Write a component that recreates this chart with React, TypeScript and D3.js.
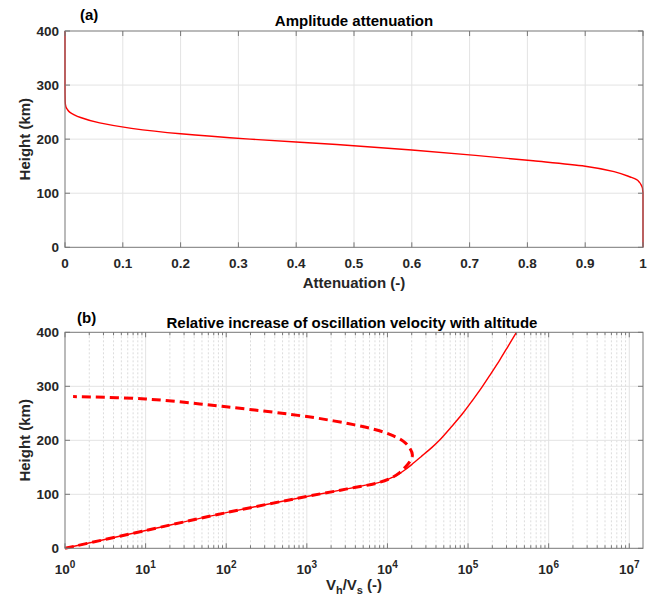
import React from 'react';
import * as d3 from 'd3';

// ---------- Data ----------
const attenTicks = [0, 0.1, 0.2, 0.3, 0.4, 0.5, 0.6, 0.7, 0.8, 0.9, 1];
const heightTicks = [0, 100, 200, 300, 400];
const logTickExps = [0, 1, 2, 3, 4, 5, 6, 7];

// Panel (a): attenuation vs height
const attenHeight = [0, 100, 105, 110, 115, 120, 125, 130, 140, 150, 160, 170, 180, 190, 200, 210, 220, 230, 240, 245, 250, 255, 260, 270, 300, 400];
const attenValue = [1, 1, 0.9995, 0.999, 0.997, 0.994, 0.989, 0.978, 0.95, 0.9, 0.81, 0.71, 0.6, 0.47, 0.32, 0.2, 0.115, 0.06, 0.027, 0.016, 0.008, 0.004, 0.0015, 0.0003, 0, 0];

// Panel (b): solid line (Vh/Vs vs height)
const solidHeight = [0, 33, 66, 96, 110, 116, 122, 127, 132, 138, 145, 155, 170, 186, 200, 226, 250, 275, 299, 325, 349, 375, 400];
const solidRatio = [1, 10, 100, 1000, 3160, 5010, 7940, 1.0e4, 1.175e4, 1.396e4, 1.64e4, 1.995e4, 2.63e4, 3.51e4, 4.42e4, 6.31e4, 8.61e4, 1.148e5, 1.496e5, 1.95e5, 2.48e5, 3.16e5, 3.98e5];

// Panel (b): dashed line (path order, bottom to top)
const dashHeight = [0, 33, 66, 96, 110, 122, 132, 140, 150, 161, 173, 185, 198, 211, 221, 229, 236, 244, 262, 276.5, 281];
const dashRatio = [1, 10, 100, 1000, 3160, 7940, 1.175e4, 1.42e4, 1.66e4, 1.9e4, 2.04e4, 1.9e4, 1.58e4, 1.07e4, 6600, 3800, 2140, 1000, 100, 10, 1.26];

const FONT = '"Liberation Sans", Arial, Helvetica, sans-serif';
const TXT = '#262626';
const AX = '#777777';
const GRID = '#e3e3e3';

export default function App() {
  const W = 654, H = 599;
  const left = 65, right = 643;
  const topA = 31, botA = 247.3;
  const topB = 332.3, botB = 548.3;
  const tickLen = 5, minorLen = 3;

  const xA = d3.scaleLinear().domain([0, 1]).range([left, right]);
  const yA = d3.scaleLinear().domain([0, 400]).range([botA, topA]);
  const xB = d3.scaleLog().domain([1, 1.48e7]).range([left, right]);
  const yB = d3.scaleLinear().domain([0, 400]).range([botB, topB]);

  const idxA = attenHeight.map((_, i) => i);
  const lineA = d3.line<number>()
    .x(i => xA(attenValue[i]))
    .y(i => yA(attenHeight[i]))
    .curve(d3.curveMonotoneY)(idxA) || '';

  const lineSolid = d3.line<number>()
    .x(i => xB(solidRatio[i]))
    .y(i => yB(solidHeight[i]))
    .curve(d3.curveCatmullRom.alpha(0.5))(solidHeight.map((_, i) => i)) || '';

  const lineDash = d3.line<number>()
    .x(i => xB(dashRatio[i]))
    .y(i => yB(dashHeight[i]))
    .curve(d3.curveCatmullRom.alpha(0.5))(dashHeight.map((_, i) => i)) || '';

  const maxB = xB.domain()[1];
  const minorVals: number[] = [];
  logTickExps.forEach(e => {
    for (let k = 2; k <= 9; k++) {
      const v = k * Math.pow(10, e);
      if (v < maxB) minorVals.push(v);
    }
  });

  const yAxisTicks = (y: d3.ScaleLinear<number, number>, key: string) => (
    <g key={key}>
      {heightTicks.map(t => (
        <g key={t}>
          <line x1={left} x2={left + tickLen} y1={y(t)} y2={y(t)} stroke={AX} />
          <line x1={right} x2={right - tickLen} y1={y(t)} y2={y(t)} stroke={AX} />
          <text x={left - 6} y={y(t)} dy="0.35em" textAnchor="end" fontSize={13.5} fontWeight="bold" fill={TXT}>{t}</text>
        </g>
      ))}
    </g>
  );

  return (
    <svg width={W} height={H} style={{ position: 'absolute', left: 0, top: 0, background: '#fff' }} fontFamily={FONT}>
      <rect x={0} y={0} width={W} height={H} fill="#fff" />

      {/* ---------- Panel (a) ---------- */}
      <g>
        {attenTicks.slice(1, -1).map(t => (
          <line key={'ga' + t} x1={xA(t)} x2={xA(t)} y1={topA} y2={botA} stroke={GRID} />
        ))}
        {heightTicks.slice(1, -1).map(t => (
          <line key={'gha' + t} x1={left} x2={right} y1={yA(t)} y2={yA(t)} stroke={GRID} />
        ))}
        <path d={lineA} fill="none" stroke="#ff0000" strokeWidth={1.4} />
        <rect x={left} y={topA} width={right - left} height={botA - topA} fill="none" stroke={AX} />
        {attenTicks.map(t => (
          <g key={'ta' + t}>
            <line x1={xA(t)} x2={xA(t)} y1={botA} y2={botA - tickLen} stroke={AX} />
            <line x1={xA(t)} x2={xA(t)} y1={topA} y2={topA + tickLen} stroke={AX} />
            <text x={xA(t)} y={268} textAnchor="middle" fontSize={13.5} fontWeight="bold" fill={TXT}>{t}</text>
          </g>
        ))}
        {yAxisTicks(yA, 'ya')}
        <text x={354} y={288} textAnchor="middle" fontSize={15} fontWeight="bold" fill={TXT}>Attenuation (-)</text>
        <text transform={`translate(30,${(topA + botA) / 2}) rotate(-90)`} textAnchor="middle" fontSize={15} fontWeight="bold" fill={TXT}>Height (km)</text>
        <text x={354} y={26} textAnchor="middle" fontSize={15} fontWeight="bold" fill="#000">Amplitude attenuation</text>
        <text x={80} y={19.5} fontSize={15} fontWeight="bold" fill="#000">(a)</text>
      </g>

      {/* ---------- Panel (b) ---------- */}
      <g>
        {minorVals.map(v => (
          <line key={'gm' + v} x1={xB(v)} x2={xB(v)} y1={topB} y2={botB} stroke="#dcdcdc" strokeDasharray="2,2" />
        ))}
        {logTickExps.slice(1).map(e => (
          <line key={'gM' + e} x1={xB(Math.pow(10, e))} x2={xB(Math.pow(10, e))} y1={topB} y2={botB} stroke={GRID} />
        ))}
        {heightTicks.slice(1, -1).map(t => (
          <line key={'ghb' + t} x1={left} x2={right} y1={yB(t)} y2={yB(t)} stroke={GRID} />
        ))}
        <path d={lineSolid} fill="none" stroke="#ff0000" strokeWidth={1.4} />
        <path d={lineDash} fill="none" stroke="#ff0000" strokeWidth={3} strokeDasharray="9,5" />
        <rect x={left} y={topB} width={right - left} height={botB - topB} fill="none" stroke={AX} />
        {minorVals.map(v => (
          <g key={'mt' + v}>
            <line x1={xB(v)} x2={xB(v)} y1={botB} y2={botB - minorLen} stroke={AX} />
            <line x1={xB(v)} x2={xB(v)} y1={topB} y2={topB + minorLen} stroke={AX} />
          </g>
        ))}
        {logTickExps.map(e => (
          <g key={'Mt' + e}>
            <line x1={xB(Math.pow(10, e))} x2={xB(Math.pow(10, e))} y1={botB} y2={botB - tickLen} stroke={AX} />
            <line x1={xB(Math.pow(10, e))} x2={xB(Math.pow(10, e))} y1={topB} y2={topB + tickLen} stroke={AX} />
            <text x={xB(Math.pow(10, e))} y={573.5} textAnchor="middle" fontSize={13.5} fontWeight="bold" fill={TXT}>
              <tspan>10</tspan>
              <tspan dy={-6} fontSize={10}>{e}</tspan>
            </text>
          </g>
        ))}
        {yAxisTicks(yB, 'yb')}
        <text x={354} y={590} textAnchor="middle" fontSize={15} fontWeight="bold" fill={TXT}>
          <tspan>V</tspan>
          <tspan dy={4} fontSize={11}>h</tspan>
          <tspan dy={-4}>/V</tspan>
          <tspan dy={4} fontSize={11}>s</tspan>
          <tspan dy={-4}> (-)</tspan>
        </text>
        <text transform={`translate(30,${(topB + botB) / 2}) rotate(-90)`} textAnchor="middle" fontSize={15} fontWeight="bold" fill={TXT}>Height (km)</text>
        <text x={352} y={327.5} textAnchor="middle" fontSize={15} fontWeight="bold" fill="#000">Relative increase of oscillation velocity with altitude</text>
        <text x={77} y={322.5} fontSize={15} fontWeight="bold" fill="#000">(b)</text>
      </g>
    </svg>
  );
}
